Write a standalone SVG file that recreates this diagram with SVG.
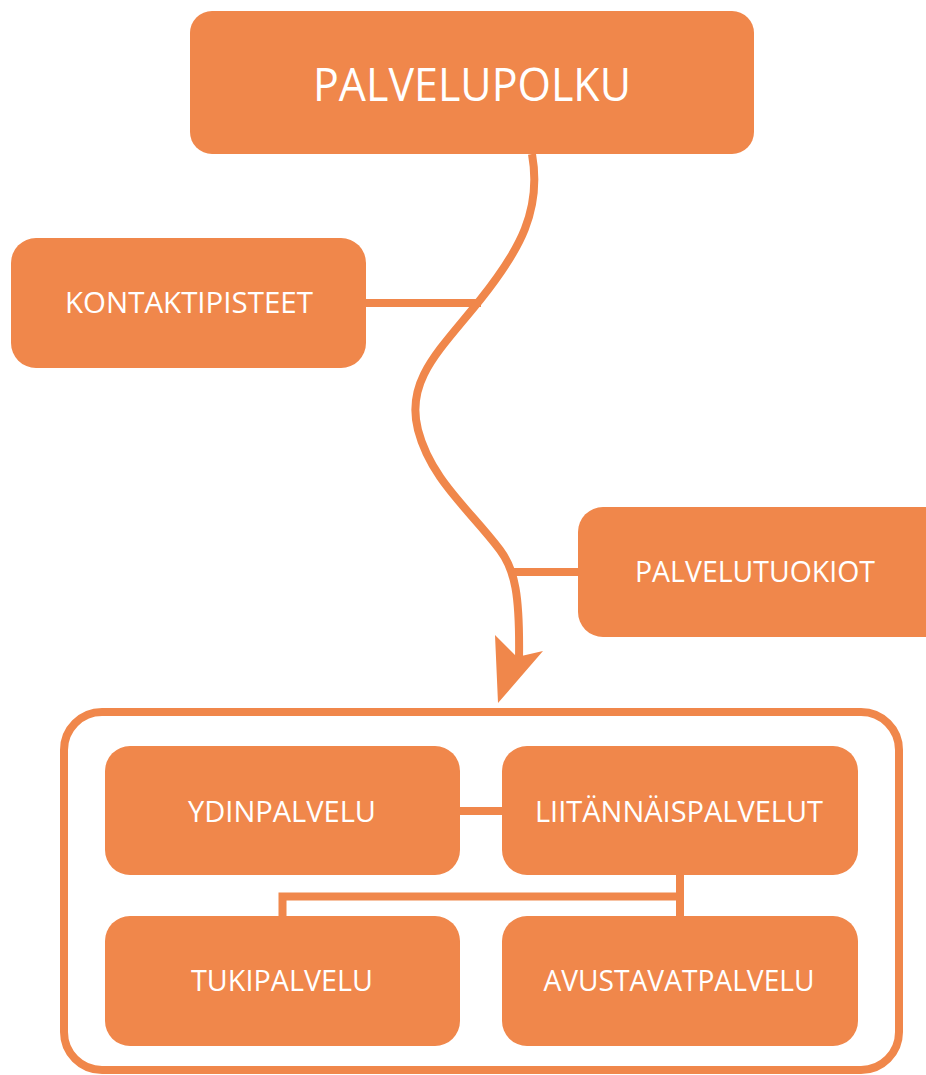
<svg xmlns="http://www.w3.org/2000/svg" width="926" height="1075" viewBox="0 0 926 1075">
<defs>
<style>
.box{fill:#F0874B;}
.lbl{fill:#ffffff;font-family:"Open Sans","Liberation Sans",sans-serif;font-size:30px;text-anchor:middle;}
.big{font-size:46px;}
.ln{fill:none;stroke:#F0874B;stroke-width:8;}
.curve{fill:none;stroke:#F0874B;stroke-width:8;stroke-linecap:butt;}
.ah{fill:#F0874B;}
</style>
</defs>
<rect width="926" height="1075" fill="#ffffff"/>
<g id="connectors">
<path class="curve" d="M 532 154 C 542 210, 520 250, 480 300 S 405 380, 418 430 S 470 510, 500 550 C 515 570, 520 595, 519 660"/>
<polygon class="ah" points="495,635 517,657 543,651 498,703"/>
<path class="ln" d="M 366 303 H 481"/>
<path class="ln" d="M 510 572 H 580"/>
<path class="ln" d="M 458 811 H 504"/>
<path class="ln" d="M 680 873 V 918 M 684 896.5 H 282.5 V 918"/>
</g>
<g id="container">
<rect x="64" y="712" width="835" height="358" rx="38" fill="none" stroke="#F0874B" stroke-width="8"/>
</g>
<g id="palvelupolku">
<rect class="box" x="190" y="11" width="564" height="143" rx="22"/>
<text class="lbl big" x="472" y="101" textLength="318" lengthAdjust="spacingAndGlyphs">PALVELUPOLKU</text>
</g>
<g id="kontaktipisteet">
<rect class="box" x="11" y="238" width="355" height="130" rx="25"/>
<text class="lbl" x="189" y="313" textLength="248" lengthAdjust="spacingAndGlyphs">KONTAKTIPISTEET</text>
</g>
<g id="palvelutuokiot">
<rect class="box" x="578" y="507" width="375" height="130" rx="25"/>
<text class="lbl" x="755" y="582" textLength="240" lengthAdjust="spacingAndGlyphs">PALVELUTUOKIOT</text>
</g>
<g id="ydinpalvelu">
<rect class="box" x="105" y="746" width="355" height="129" rx="25"/>
<text class="lbl" x="282" y="822" textLength="188" lengthAdjust="spacingAndGlyphs">YDINPALVELU</text>
</g>
<g id="liitannaispalvelut">
<rect class="box" x="502" y="746" width="356" height="129" rx="25"/>
<text class="lbl" x="679" y="822" textLength="288" lengthAdjust="spacingAndGlyphs">LIITÄNNÄISPALVELUT</text>
</g>
<g id="tukipalvelu">
<rect class="box" x="105" y="916" width="355" height="130" rx="25"/>
<text class="lbl" x="282" y="991" textLength="182" lengthAdjust="spacingAndGlyphs">TUKIPALVELU</text>
</g>
<g id="avustavatpalvelu">
<rect class="box" x="502" y="916" width="356" height="130" rx="25"/>
<text class="lbl" x="679" y="991" textLength="271" lengthAdjust="spacingAndGlyphs">AVUSTAVATPALVELU</text>
</g>
</svg>
